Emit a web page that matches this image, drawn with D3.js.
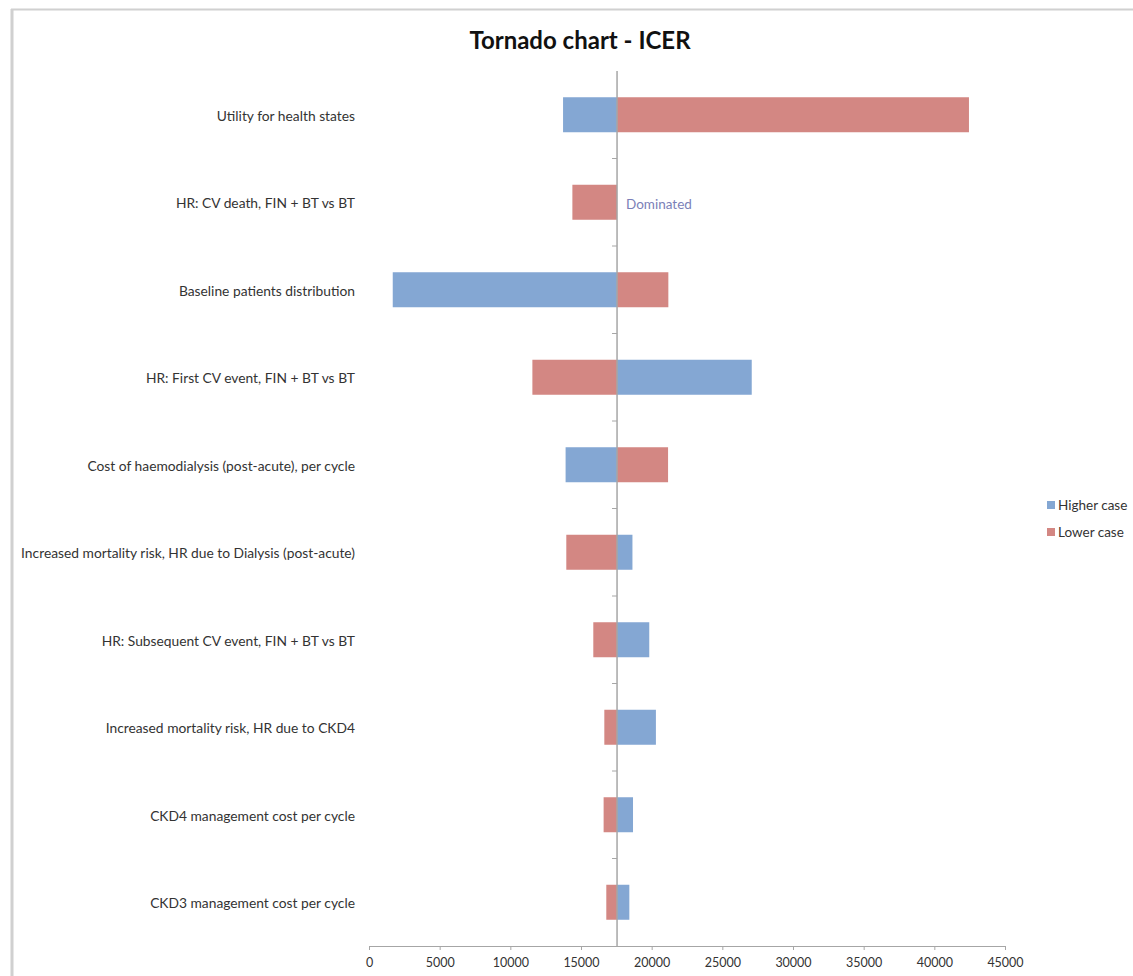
<!DOCTYPE html>
<html>
<head>
<meta charset="utf-8">
<script src="https://cdn.jsdelivr.net/npm/d3@7"></script>
<style>
  body { margin: 0; background: #fff; }
  text { font-family: Lato, "Open Sans", sans-serif; }
</style>
</head>
<body>
<div id="chart"></div>
<script>
var categories = [
  "Utility for health states",
  "HR: CV death, FIN + BT vs BT",
  "Baseline patients distribution",
  "HR: First CV event, FIN + BT vs BT",
  "Cost of haemodialysis (post-acute), per cycle",
  "Increased mortality risk, HR due to Dialysis (post-acute)",
  "HR: Subsequent CV event, FIN + BT vs BT",
  "Increased mortality risk, HR due to CKD4",
  "CKD4 management cost per cycle",
  "CKD3 management cost per cycle"
];

// ICER for the higher and lower case of each parameter (null = dominated)
var higherCase = [13730, null, 1680, 27080, 13910, 18640, 19830, 20300, 18680, 18420];
var lowerCase  = [42450, 14390, 21180, 11560, 21160, 13960, 15870, 16650, 16600, 16790];
var baseIcer = 17550;

var xTicks = [0, 5000, 10000, 15000, 20000, 25000, 30000, 35000, 40000, 45000];
var seriesNames = ["Higher case", "Lower case"];

var width = 1133,
    height = 976,
    plotLeft = 369,
    plotRight = 1005,
    plotTop = 71,
    plotBottom = 946;

var blue = "#84a7d3",
    red = "#d38783";

var x = d3.scaleLinear()
    .domain([0, 45000])
    .range([plotLeft, plotRight]);

var y = d3.scaleBand()
    .domain(categories)
    .range([plotTop, plotBottom])
    .paddingInner(0.6)
    .paddingOuter(0.3);

var svg = d3.select("#chart").append("svg")
    .attr("width", width)
    .attr("height", height);

// outer frame of the pasted chart
svg.append("line")
    .attr("x1", 11).attr("x2", width).attr("y1", 9.5).attr("y2", 9.5)
    .attr("stroke", "#d0d0d0").attr("stroke-width", 2);
svg.append("line")
    .attr("x1", 12).attr("x2", 12).attr("y1", 9).attr("y2", height)
    .attr("stroke", "#d0d0d0").attr("stroke-width", 3);

svg.append("text")
    .attr("x", 580)
    .attr("y", 49)
    .attr("text-anchor", "middle")
    .attr("font-size", 24)
    .attr("font-weight", "bold")
    .attr("fill", "#111")
    .text("Tornado chart - ICER");

var rows = categories.map(function(c, i) {
  return {cat: c, high: higherCase[i], low: lowerCase[i]};
});

var row = svg.selectAll(".row")
    .data(rows)
  .enter().append("g")
    .attr("class", "row");

row.filter(function(d) { return d.high !== null; }).append("rect")
    .attr("x", function(d) { return x(Math.min(d.high, baseIcer)); })
    .attr("y", function(d) { return y(d.cat); })
    .attr("width", function(d) { return Math.abs(x(d.high) - x(baseIcer)); })
    .attr("height", y.bandwidth())
    .attr("fill", blue);

row.append("rect")
    .attr("x", function(d) { return x(Math.min(d.low, baseIcer)); })
    .attr("y", function(d) { return y(d.cat); })
    .attr("width", function(d) { return Math.abs(x(d.low) - x(baseIcer)); })
    .attr("height", y.bandwidth())
    .attr("fill", red);

row.filter(function(d) { return d.high === null; }).append("text")
    .attr("x", x(baseIcer) + 9)
    .attr("y", function(d) { return y(d.cat) + y.bandwidth() / 2 + 2; })
    .attr("dy", "0.35em")
    .attr("font-size", 13.5)
    .attr("fill", "#7b7fb8")
    .text("Dominated");

// category labels
svg.selectAll(".cat-label")
    .data(categories)
  .enter().append("text")
    .attr("class", "cat-label")
    .attr("x", 355)
    .attr("y", function(d) { return y(d) + y.bandwidth() / 2 + 1; })
    .attr("dy", "0.35em")
    .attr("text-anchor", "end")
    .attr("font-size", 13.8)
    .attr("fill", "#333")
    .text(function(d) { return d; });

// vertical base-case axis with ticks between categories
svg.append("line")
    .attr("x1", x(baseIcer)).attr("x2", x(baseIcer))
    .attr("y1", plotTop).attr("y2", plotBottom)
    .attr("stroke", "#a6a6a6").attr("stroke-width", 1.5);

svg.selectAll(".cat-tick")
    .data(categories.slice(0, -1))
  .enter().append("line")
    .attr("class", "cat-tick")
    .attr("x1", x(baseIcer) - 5).attr("x2", x(baseIcer))
    .attr("y1", function(d) { return y(d) + y.bandwidth() / 2 + y.step() / 2; })
    .attr("y2", function(d) { return y(d) + y.bandwidth() / 2 + y.step() / 2; })
    .attr("stroke", "#a6a6a6");

var xAxis = d3.axisBottom(x)
    .tickValues(xTicks)
    .tickFormat(d3.format("d"))
    .tickSize(4)
    .tickPadding(8);

var gx = svg.append("g")
    .attr("transform", "translate(0," + plotBottom + ")")
    .call(xAxis);
gx.select(".domain").attr("stroke", "#a6a6a6");
gx.selectAll(".tick line").attr("stroke", "#a6a6a6");
gx.selectAll(".tick text")
    .attr("font-size", 12.5)
    .attr("font-family", "Lato, sans-serif")
    .attr("fill", "#333");

// legend
var legend = svg.selectAll(".legend")
    .data(seriesNames)
  .enter().append("g")
    .attr("class", "legend")
    .attr("transform", function(d, i) { return "translate(1047," + (505 + i * 27) + ")"; });

legend.append("rect")
    .attr("x", 0).attr("y", -4)
    .attr("width", 8).attr("height", 8)
    .attr("fill", function(d, i) { return i === 0 ? blue : red; });

legend.append("text")
    .attr("x", 11)
    .attr("dy", "0.35em")
    .attr("font-size", 13.5)
    .attr("fill", "#333")
    .text(function(d) { return d; });
</script>
</body>
</html>
